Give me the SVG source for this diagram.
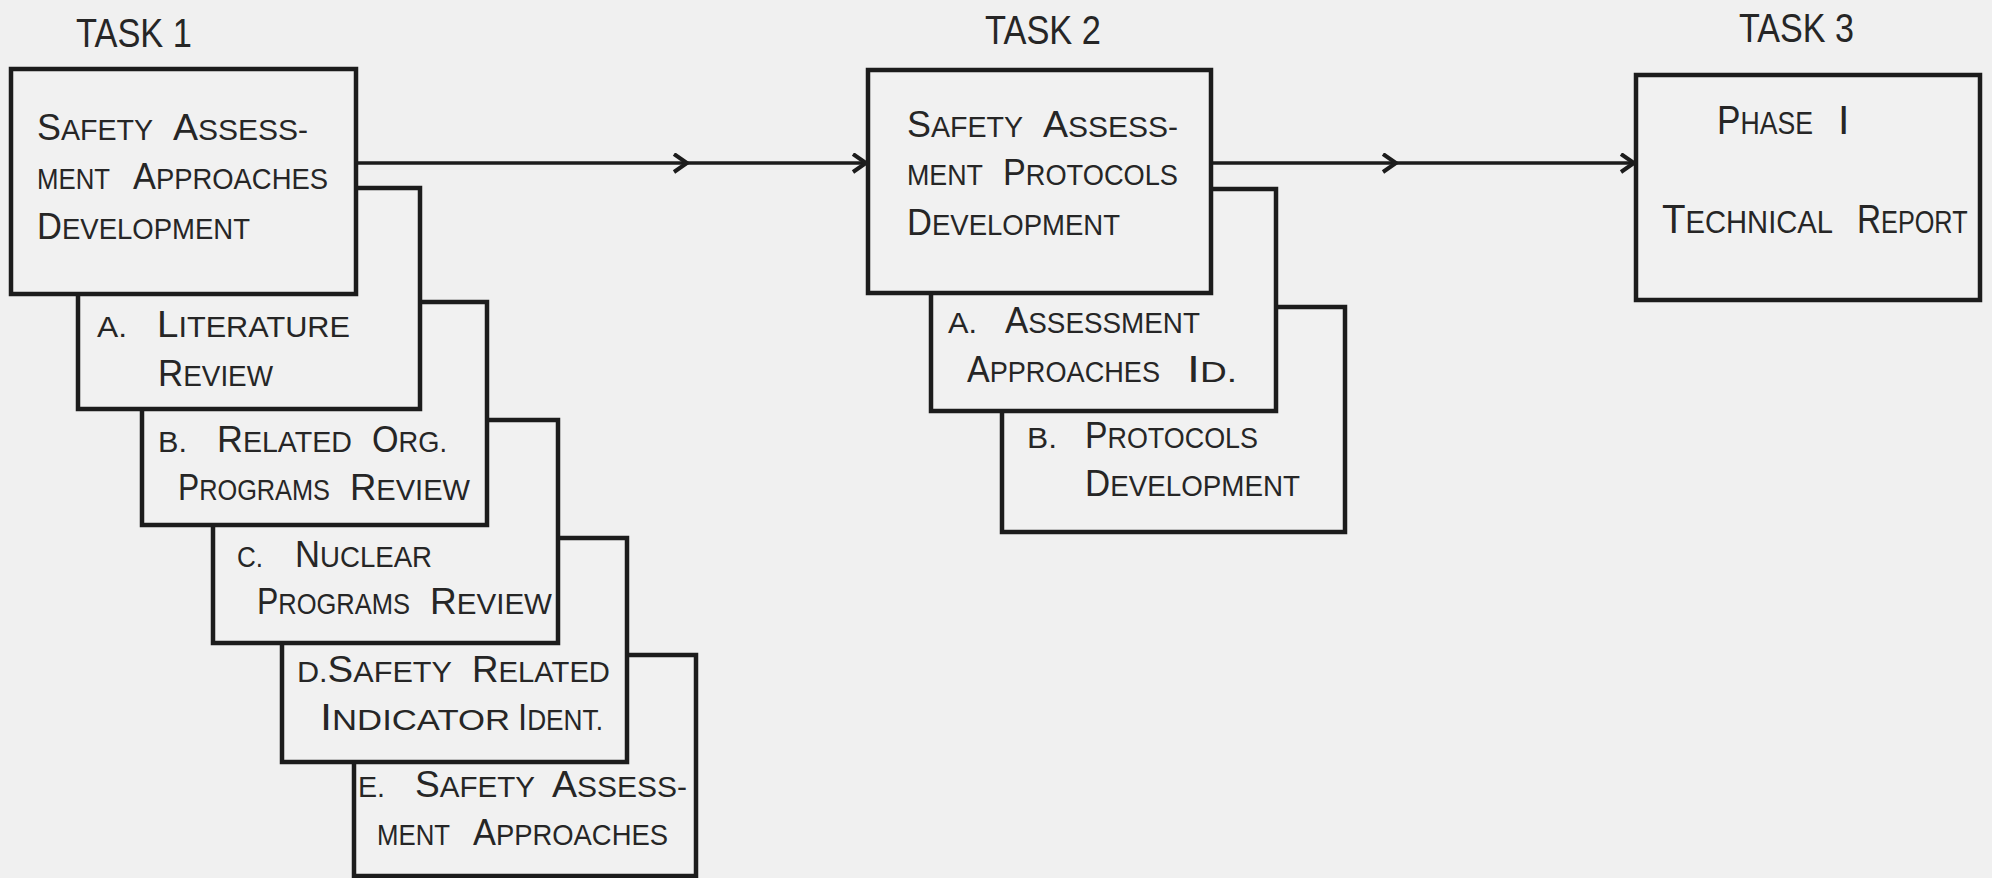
<svg xmlns="http://www.w3.org/2000/svg" width="1992" height="878" viewBox="0 0 1992 878">
<style>
.bx{fill:#f1f1f1;stroke:#1c1c1c;stroke-width:4.5}
.t{font-family:"Liberation Sans",Arial,sans-serif;font-size:29.5px;fill:#262626}
.b{font-size:37px}
.t3{font-size:31px}
.b3{font-size:41px}
.tk{font-family:"Liberation Sans",Arial,sans-serif;font-size:41px;fill:#262626}
.ar{fill:none;stroke:#1c1c1c;stroke-width:3.5}
</style>
<defs>
<marker id="ah" markerUnits="userSpaceOnUse" markerWidth="24" markerHeight="24" refX="16" refY="10" orient="auto">
<path d="M3,1 L16,10 L3,19" fill="none" stroke="#1c1c1c" stroke-width="4" stroke-linejoin="miter"/>
</marker>
</defs>
<rect width="1992" height="878" fill="#f0f0f0"/>
<g id="labels">
<text class="tk" x="76" y="47" textLength="116" lengthAdjust="spacingAndGlyphs">TASK 1</text>
<text class="tk" x="985" y="44" textLength="116" lengthAdjust="spacingAndGlyphs">TASK 2</text>
<text class="tk" x="1739" y="42" textLength="115" lengthAdjust="spacingAndGlyphs">TASK 3</text>
</g>
<g id="connectors">
<path class="ar" d="M358,163 L687,163 L866,163" marker-mid="url(#ah)" marker-end="url(#ah)"/>
<path class="ar" d="M1213,163 L1396,163 L1634,163" marker-mid="url(#ah)" marker-end="url(#ah)"/>
</g>
<g id="task1-e">
<rect class="bx" x="354" y="655" width="342" height="221"/>
<text class="t" x="358" y="797" textLength="27" lengthAdjust="spacingAndGlyphs">E.</text>
<text class="t" x="415" y="797" textLength="120" lengthAdjust="spacingAndGlyphs"><tspan class="b">S</tspan>AFETY</text>
<text class="t" x="552" y="797" textLength="135" lengthAdjust="spacingAndGlyphs"><tspan class="b">A</tspan>SSESS-</text>
<text class="t" x="377" y="845" textLength="73" lengthAdjust="spacingAndGlyphs">MENT</text>
<text class="t" x="473" y="845" textLength="195" lengthAdjust="spacingAndGlyphs"><tspan class="b">A</tspan>PPROACHES</text>
</g>
<g id="task1-d">
<rect class="bx" x="282" y="538" width="345" height="224"/>
<text class="t" x="297" y="682" textLength="155" lengthAdjust="spacingAndGlyphs">D.<tspan class="b">S</tspan>AFETY</text>
<text class="t" x="472" y="682" textLength="138" lengthAdjust="spacingAndGlyphs"><tspan class="b">R</tspan>ELATED</text>
<text class="t" x="320" y="730" textLength="190" lengthAdjust="spacingAndGlyphs"><tspan class="b">I</tspan>NDICATOR</text>
<text class="t" x="518" y="730" textLength="85" lengthAdjust="spacingAndGlyphs"><tspan class="b">I</tspan>DENT.</text>
</g>
<g id="task1-c">
<rect class="bx" x="213" y="420" width="345" height="223"/>
<text class="t" x="237" y="567" textLength="26" lengthAdjust="spacingAndGlyphs">C.</text>
<text class="t" x="295" y="567" textLength="137" lengthAdjust="spacingAndGlyphs"><tspan class="b">N</tspan>UCLEAR</text>
<text class="t" x="257" y="614" textLength="153" lengthAdjust="spacingAndGlyphs"><tspan class="b">P</tspan>ROGRAMS</text>
<text class="t" x="430" y="614" textLength="122" lengthAdjust="spacingAndGlyphs"><tspan class="b">R</tspan>EVIEW</text>
</g>
<g id="task1-b">
<rect class="bx" x="142" y="302" width="345" height="223"/>
<text class="t" x="158" y="452" textLength="29" lengthAdjust="spacingAndGlyphs">B.</text>
<text class="t" x="217" y="452" textLength="135" lengthAdjust="spacingAndGlyphs"><tspan class="b">R</tspan>ELATED</text>
<text class="t" x="372" y="452" textLength="75" lengthAdjust="spacingAndGlyphs"><tspan class="b">O</tspan>RG.</text>
<text class="t" x="178" y="500" textLength="152" lengthAdjust="spacingAndGlyphs"><tspan class="b">P</tspan>ROGRAMS</text>
<text class="t" x="350" y="500" textLength="120" lengthAdjust="spacingAndGlyphs"><tspan class="b">R</tspan>EVIEW</text>
</g>
<g id="task1-a">
<rect class="bx" x="78" y="188" width="342" height="221"/>
<text class="t" x="97" y="337" textLength="30" lengthAdjust="spacingAndGlyphs">A.</text>
<text class="t" x="157" y="337" textLength="193" lengthAdjust="spacingAndGlyphs"><tspan class="b">L</tspan>ITERATURE</text>
<text class="t" x="158" y="386" textLength="115" lengthAdjust="spacingAndGlyphs"><tspan class="b">R</tspan>EVIEW</text>
</g>
<g id="task1">
<rect class="bx" x="11" y="69" width="345" height="225"/>
<text class="t" x="37" y="140" textLength="116" lengthAdjust="spacingAndGlyphs"><tspan class="b">S</tspan>AFETY</text>
<text class="t" x="173" y="140" textLength="135" lengthAdjust="spacingAndGlyphs"><tspan class="b">A</tspan>SSESS-</text>
<text class="t" x="37" y="189" textLength="73" lengthAdjust="spacingAndGlyphs">MENT</text>
<text class="t" x="133" y="189" textLength="195" lengthAdjust="spacingAndGlyphs"><tspan class="b">A</tspan>PPROACHES</text>
<text class="t" x="37" y="239" textLength="213" lengthAdjust="spacingAndGlyphs"><tspan class="b">D</tspan>EVELOPMENT</text>
</g>
<g id="task2-b">
<rect class="bx" x="1002" y="307" width="343" height="225"/>
<text class="t" x="1027" y="448" textLength="30" lengthAdjust="spacingAndGlyphs">B.</text>
<text class="t" x="1085" y="448" textLength="173" lengthAdjust="spacingAndGlyphs"><tspan class="b">P</tspan>ROTOCOLS</text>
<text class="t" x="1085" y="496" textLength="215" lengthAdjust="spacingAndGlyphs"><tspan class="b">D</tspan>EVELOPMENT</text>
</g>
<g id="task2-a">
<rect class="bx" x="931" y="189" width="345" height="222"/>
<text class="t" x="948" y="333" textLength="29" lengthAdjust="spacingAndGlyphs">A.</text>
<text class="t" x="1005" y="333" textLength="195" lengthAdjust="spacingAndGlyphs"><tspan class="b">A</tspan>SSESSMENT</text>
<text class="t" x="967" y="382" textLength="193" lengthAdjust="spacingAndGlyphs"><tspan class="b">A</tspan>PPROACHES</text>
<text class="t" x="1187" y="382" textLength="50" lengthAdjust="spacingAndGlyphs"><tspan class="b">I</tspan>D.</text>
</g>
<g id="task2">
<rect class="bx" x="868" y="70" width="343" height="223"/>
<text class="t" x="907" y="137" textLength="116" lengthAdjust="spacingAndGlyphs"><tspan class="b">S</tspan>AFETY</text>
<text class="t" x="1043" y="137" textLength="135" lengthAdjust="spacingAndGlyphs"><tspan class="b">A</tspan>SSESS-</text>
<text class="t" x="907" y="185" textLength="76" lengthAdjust="spacingAndGlyphs">MENT</text>
<text class="t" x="1003" y="185" textLength="175" lengthAdjust="spacingAndGlyphs"><tspan class="b">P</tspan>ROTOCOLS</text>
<text class="t" x="907" y="235" textLength="213" lengthAdjust="spacingAndGlyphs"><tspan class="b">D</tspan>EVELOPMENT</text>
</g>
<g id="task3">
<rect class="bx" x="1636" y="75" width="344" height="225"/>
<text class="t t3" x="1717" y="134" textLength="96" lengthAdjust="spacingAndGlyphs"><tspan class="b3">P</tspan>HASE</text>
<text class="t b3" x="1838" y="134">I</text>
<text class="t t3" x="1662" y="233" textLength="171" lengthAdjust="spacingAndGlyphs"><tspan class="b3">T</tspan>ECHNICAL</text>
<text class="t t3" transform="translate(1857,233) scale(0.814,1)" x="0" y="0"><tspan class="b3">R</tspan>EPORT</text>
</g>
</svg>
